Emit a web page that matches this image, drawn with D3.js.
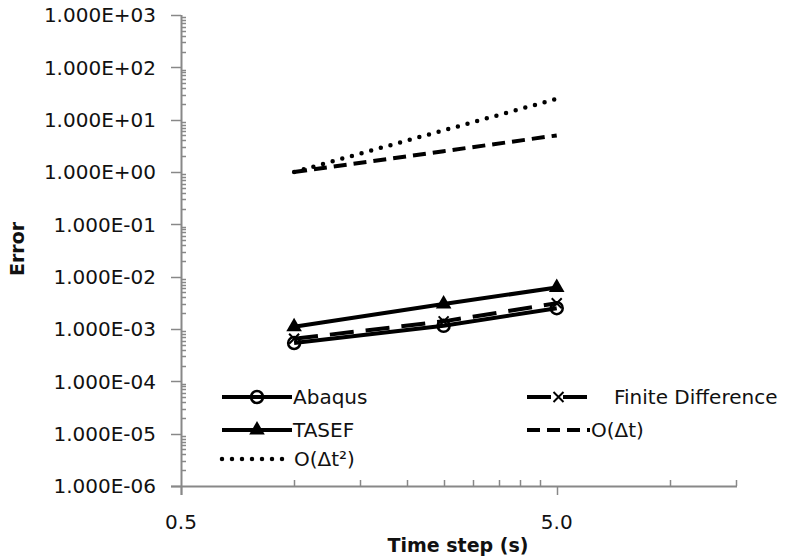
<!DOCTYPE html>
<html>
<head>
<meta charset="utf-8">
<script src="https://cdn.jsdelivr.net/npm/d3@7"></script>
<style>
	body { margin: 0; background: #fff; }
	text { font-family: "DejaVu Sans", sans-serif; fill: #111; }
</style>
</head>
<body>
<script>
// time steps (s) and errors for each method
var time_steps = [1, 2.5, 5];
var abaqus = [5.4e-4, 1.15e-3, 2.5e-3];
var finite_diff = [6.5e-4, 1.4e-3, 3.1e-3];
var tasef = [1.1e-3, 3.0e-3, 6.2e-3];
var order_one = [1, 2.5, 5];
var order_two = [1, 6.25, 25];

// tick values and labels
var x_major = [0.5, 5];
var x_major_labels = ["0.5", "5.0"];
var x_minor = [1, 1.5, 2, 2.5, 3, 3.5, 4, 4.5, 10, 15];
var y_major = [1e-6, 1e-5, 1e-4, 1e-3, 1e-2, 1e-1, 1e0, 1e1, 1e2, 1e3];
var y_major_labels = ["1.000E-06", "1.000E-05", "1.000E-04", "1.000E-03", "1.000E-02",
	"1.000E-01", "1.000E+00", "1.000E+01", "1.000E+02", "1.000E+03"];

var legend_names = ["Abaqus", "Finite Difference", "TASEF", "O(\u0394t)", "O(\u0394t\u00b2)"];

var width = 786, height = 558;
var plot = {left: 181, right: 736, top: 15, bottom: 486};

var svg = d3.select("body").append("svg")
	.attr("width", width)
	.attr("height", height);

// log scales on both axes
var x = d3.scaleLog().domain([0.5, 15]).range([plot.left, plot.right]);
var y = d3.scaleLog().domain([1e-6, 1e3]).range([plot.bottom, plot.top]);

var axis_color = "#888";

// y minor ticks (2..9 in every decade), drawn inside
var y_minor = [];
y_major.slice(0, -1).forEach(function(d) {
	for (var k = 2; k < 10; k++) y_minor.push(d * k);
});

svg.append("g").selectAll("line").data(y_minor).enter().append("line")
	.attr("x1", plot.left).attr("x2", plot.left + 5)
	.attr("y1", function(d) { return Math.round(y(d)) + 0.5; })
	.attr("y2", function(d) { return Math.round(y(d)) + 0.5; })
	.attr("stroke", axis_color).attr("stroke-width", 1.5);

svg.append("g").selectAll("line").data(y_major).enter().append("line")
	.attr("x1", plot.left - 10).attr("x2", plot.left)
	.attr("y1", function(d) { return Math.round(y(d)) + 0.5; })
	.attr("y2", function(d) { return Math.round(y(d)) + 0.5; })
	.attr("stroke", axis_color).attr("stroke-width", 1.5);

svg.append("g").selectAll("text").data(y_major).enter().append("text")
	.attr("x", plot.left - 25)
	.attr("y", function(d) { return y(d); })
	.attr("dy", "0.36em")
	.attr("text-anchor", "end")
	.attr("font-size", 20)
	.text(function(d, i) { return y_major_labels[i]; });

// x minor ticks inside, major ticks outside
svg.append("g").selectAll("line").data(x_minor).enter().append("line")
	.attr("x1", function(d) { return Math.round(x(d)) + 0.5; })
	.attr("x2", function(d) { return Math.round(x(d)) + 0.5; })
	.attr("y1", plot.bottom - 6).attr("y2", plot.bottom)
	.attr("stroke", axis_color).attr("stroke-width", 1.5);

svg.append("g").selectAll("line").data(x_major).enter().append("line")
	.attr("x1", function(d) { return Math.round(x(d)) + 0.5; })
	.attr("x2", function(d) { return Math.round(x(d)) + 0.5; })
	.attr("y1", plot.bottom).attr("y2", plot.bottom + 9)
	.attr("stroke", axis_color).attr("stroke-width", 1.5);

svg.append("g").selectAll("text").data(x_major).enter().append("text")
	.attr("x", function(d) { return x(d); })
	.attr("y", plot.bottom + 43)
	.attr("text-anchor", "middle")
	.attr("font-size", 20)
	.text(function(d, i) { return x_major_labels[i]; });

// axis lines
svg.append("line")
	.attr("x1", plot.left + 0.5).attr("x2", plot.left + 0.5)
	.attr("y1", plot.top).attr("y2", plot.bottom + 9)
	.attr("stroke", axis_color).attr("stroke-width", 2);
svg.append("line")
	.attr("x1", plot.left - 10).attr("x2", plot.right + 1)
	.attr("y1", plot.bottom + 0.5).attr("y2", plot.bottom + 0.5)
	.attr("stroke", axis_color).attr("stroke-width", 2);

// axis titles
svg.append("text")
	.attr("x", 458).attr("y", 552)
	.attr("text-anchor", "middle")
	.attr("font-size", 19)
	.attr("font-weight", "bold")
	.text("Time step (s)");

svg.append("text")
	.attr("transform", "translate(24,249) rotate(-90)")
	.attr("text-anchor", "middle")
	.attr("font-size", 19)
	.attr("font-weight", "bold")
	.text("Error");

// series styles
var series = [
	{values: abaqus, dash: null, width: 4, marker: "circle"},
	{values: finite_diff, dash: "24,12", width: 4, marker: "cross"},
	{values: tasef, dash: null, width: 4, marker: "triangle"},
	{values: order_one, dash: "13,7", width: 4, marker: null},
	{values: order_two, dash: "0,10", width: 4.5, marker: null, round: true}
];

var line = d3.line()
	.x(function(d) { return x(d[0]); })
	.y(function(d) { return y(d[1]); });

function draw_marker(g, type, cx, cy) {
	if (type == "circle") {
		g.append("circle")
			.attr("cx", cx).attr("cy", cy).attr("r", 6)
			.attr("fill", "none")
			.attr("stroke", "#000").attr("stroke-width", 2.5);
	} else if (type == "triangle") {
		g.append("path")
			.attr("d", d3.symbol().type(d3.symbolTriangle).size(105)())
			.attr("transform", "translate(" + cx + "," + cy + ")")
			.attr("fill", "#000");
	} else if (type == "cross") {
		g.append("path")
			.attr("d", "M-5,-5L5,5M-5,5L5,-5")
			.attr("transform", "translate(" + cx + "," + cy + ")")
			.attr("stroke", "#000").attr("stroke-width", 2);
	}
}

series.forEach(function(s) {
	var pts = time_steps.map(function(t, i) { return [t, s.values[i]]; });
	var g = svg.append("g");
	g.append("path")
		.datum(pts)
		.attr("d", line)
		.attr("fill", "none")
		.attr("stroke", "#000")
		.attr("stroke-width", s.width)
		.attr("stroke-dasharray", s.dash)
		.attr("stroke-linecap", s.round ? "round" : "butt");
	if (s.marker) {
		pts.forEach(function(p) { draw_marker(g, s.marker, x(p[0]), y(p[1])); });
	}
});

// legend, two columns like the original
var legend_pos = [[222, 397], [527, 397], [222, 430], [527, 430], [222, 459]];
var legend_text_x = [293, 614, 293, 591, 294];
var sample_len = [70, 63, 70, 63, 63];

series.forEach(function(s, i) {
	var lx = legend_pos[i][0], ly = legend_pos[i][1];
	var g = svg.append("g");
	g.append("line")
		.attr("x1", lx).attr("x2", lx + sample_len[i])
		.attr("y1", ly).attr("y2", ly)
		.attr("stroke", "#000")
		.attr("stroke-width", s.width)
		.attr("stroke-dasharray", s.dash)
		.attr("stroke-linecap", s.round ? "round" : "butt");
	if (s.marker) draw_marker(g, s.marker, lx + sample_len[i] / 2, ly);
	g.append("text")
		.attr("x", legend_text_x[i]).attr("y", ly)
		.attr("dy", "0.36em")
		.attr("font-size", 20)
		.text(legend_names[i]);
});
</script>
</body>
</html>
